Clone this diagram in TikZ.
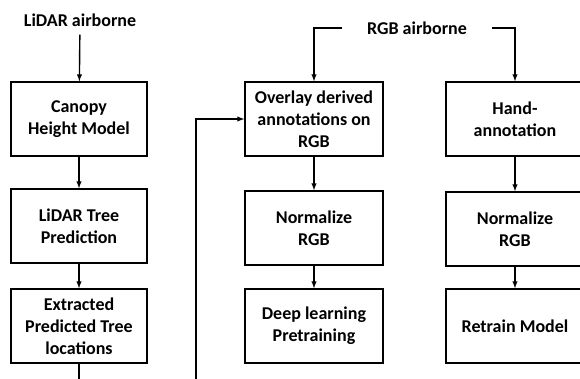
\documentclass[tikz,border=0pt]{standalone}
\usepackage{fontspec}
\setmainfont{Carlito}
\tikzset{
  >=latex,
}
\tikzstyle{stage}=[draw,line width=1.4pt,minimum width=136pt,minimum height=74pt,align=center,inner sep=2pt]
\tikzstyle{every node}=[font=\fontsize{18}{22}\selectfont\bfseries]
\tikzstyle{flow}=[line width=1.4pt,->]

\begin{document}
\begin{tikzpicture}[x=1pt,y=-1pt]
    \path[use as bounding box,clip] (0,0) rectangle (580,379);
    % LiDAR branch
    \node[inner sep=8pt] (lidar) at (80,20) {LiDAR airborne};
    \node[stage] (chm) at (79,119) {Canopy\\Height Model};
    \node[stage] (ltp) at (79,226) {LiDAR Tree\\Prediction};
    \node[stage] (etl) at (79,326) {Extracted\\Predicted Tree\\locations};
    \coordinate (fb) at (196,379);
    % RGB branch
    \node[inner xsep=25pt,inner ysep=3pt] (rgb) at (417,28) {RGB airborne};
    \node[stage,minimum width=138pt] (ovl) at (314,119) {Overlay derived\\annotations on\\RGB};
    \node[stage,minimum width=138pt] (nrm1) at (314,228) {Normalize\\RGB};
    \node[stage,minimum width=138pt] (pre) at (314,326) {Deep learning\\Pretraining};
    \node[stage,minimum width=138pt] (hand) at (515,119) {Hand-\\annotation};
    \node[stage,minimum width=138pt] (nrm2) at (515,229) {Normalize\\RGB};
    \node[stage,minimum width=138pt] (rtm) at (515,326) {Retrain Model};
    \draw[flow] (lidar) -- (chm);
    \draw[flow] (chm) -- (ltp);
    \draw[flow] (ltp) -- (etl);
    \draw[line width=1.4pt] (etl.south) -- (etl.south |- fb);
    \draw[flow] (fb) |- (ovl.west);
    \draw[flow] (rgb.west) -| (ovl.north);
    \draw[flow] (rgb.east) -| (hand.north);
    \draw[flow] (ovl) -- (nrm1);
    \draw[flow] (nrm1) -- (pre);
    \draw[flow] (hand) -- (nrm2);
    \draw[flow] (nrm2) -- (rtm);
  \end{tikzpicture}
\end{document}
